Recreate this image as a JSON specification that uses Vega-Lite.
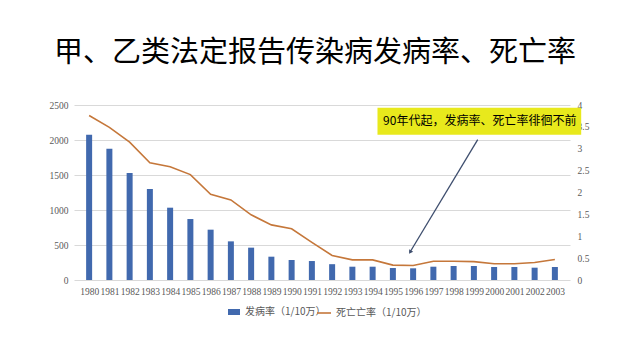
{
  "$schema": "https://vega.github.io/schema/vega-lite/v6.json",
  "width": 496,
  "height": 175,
  "autosize": "none",
  "padding": {"left": 74, "top": 105, "right": 70, "bottom": 80},
  "background": "white",
  "title": {
    "text": "甲、乙类法定报告传染病发病率、死亡率",
    "font": "Noto Sans CJK SC",
    "fontSize": 29,
    "fontWeight": "normal",
    "color": "#000000",
    "anchor": "middle",
    "dx": -7,
    "offset": 32
  },
  "config": {
    "view": {"stroke": null},
    "axis": {
      "labelFont": "Liberation Serif",
      "labelFontSize": 9.5,
      "labelColor": "#595959",
      "ticks": false,
      "domain": false,
      "title": null
    }
  },
  "datasets": {
    "rates": [
      {"year": 1980, "inc": 2076, "mort": 3.76},
      {"year": 1981, "inc": 1876, "mort": 3.49},
      {"year": 1982, "inc": 1529, "mort": 3.15},
      {"year": 1983, "inc": 1300, "mort": 2.68},
      {"year": 1984, "inc": 1033, "mort": 2.59},
      {"year": 1985, "inc": 871, "mort": 2.41},
      {"year": 1986, "inc": 719, "mort": 1.96},
      {"year": 1987, "inc": 552, "mort": 1.83},
      {"year": 1988, "inc": 462, "mort": 1.49},
      {"year": 1989, "inc": 333, "mort": 1.26},
      {"year": 1990, "inc": 286, "mort": 1.17},
      {"year": 1991, "inc": 271, "mort": 0.86},
      {"year": 1992, "inc": 226, "mort": 0.56},
      {"year": 1993, "inc": 190, "mort": 0.46},
      {"year": 1994, "inc": 190, "mort": 0.46},
      {"year": 1995, "inc": 171, "mort": 0.34},
      {"year": 1996, "inc": 167, "mort": 0.33},
      {"year": 1997, "inc": 190, "mort": 0.43},
      {"year": 1998, "inc": 200, "mort": 0.43},
      {"year": 1999, "inc": 200, "mort": 0.42},
      {"year": 2000, "inc": 186, "mort": 0.37},
      {"year": 2001, "inc": 186, "mort": 0.37},
      {"year": 2002, "inc": 176, "mort": 0.40},
      {"year": 2003, "inc": 186, "mort": 0.47}
    ],
    "note": [
      {"label": "90年代起，发病率、死亡率徘徊不前"}
    ]
  },
  "layer": [
    {
      "data": {"name": "rates"},
      "mark": {"type": "bar", "size": 6},
      "encoding": {
        "x": {
          "field": "year",
          "type": "quantitative",
          "scale": {"domain": [1979.5, 2003.5], "nice": false, "zero": false},
          "axis": {
            "values": [1980,1981,1982,1983,1984,1985,1986,1987,1988,1989,1990,1991,1992,1993,1994,1995,1996,1997,1998,1999,2000,2001,2002,2003],
            "format": "d",
            "labelOverlap": false,
            "labelPadding": 6,
            "labelFlush": false,
            "grid": false
          }
        },
        "y": {
          "field": "inc",
          "type": "quantitative",
          "scale": {"domain": [0, 2500], "nice": false},
          "axis": {"values": [0,500,1000,1500,2000,2500], "format": "d", "labelOverlap": false, "grid": true, "gridColor": "#D9D9D9", "gridWidth": 1, "labelPadding": 6}
        },
        "color": {
          "datum": "发病率（1/10万）",
          "scale": {"range": ["#4169AE"]},
          "legend": {
            "orient": "none", "legendX": 153, "legendY": 200, "title": null,
            "symbolType": "M-1,-0.5H1V0.5H-1Z", "symbolSize": 144,
            "labelFont": "Noto Sans CJK SC", "labelFontSize": 10, "labelColor": "#595959",
            "labelOffset": 4, "padding": 0
          }
        }
      }
    },
    {
      "data": {"name": "rates"},
      "mark": {"type": "line", "strokeWidth": 1.6},
      "encoding": {
        "x": {
          "field": "year",
          "type": "quantitative",
          "axis": {
            "values": [1980,1981,1982,1983,1984,1985,1986,1987,1988,1989,1990,1991,1992,1993,1994,1995,1996,1997,1998,1999,2000,2001,2002,2003],
            "format": "d",
            "labelOverlap": false,
            "labelPadding": 6,
            "labelFlush": false,
            "grid": false
          }
        },
        "y": {
          "field": "mort",
          "type": "quantitative",
          "scale": {"domain": [0, 4], "nice": false},
          "axis": {"orient": "right", "values": [0,0.5,1,1.5,2,2.5,3,3.5,4], "format": "~g", "labelOverlap": false, "grid": false, "labelPadding": 7}
        },
        "stroke": {
          "datum": "死亡亡率（1/10万）",
          "scale": {"range": ["#C5773A"]},
          "legend": {
            "orient": "none", "legendX": 242, "legendY": 200, "title": null,
            "symbolType": "stroke", "symbolSize": 196, "symbolStrokeWidth": 1.6,
            "labelFont": "Noto Sans CJK SC", "labelFontSize": 10, "labelColor": "#595959",
            "labelOffset": 4, "padding": 0
          }
        }
      }
    },
    {
      "data": {"name": "note"},
      "layer": [
        {
          "mark": {"type": "rect", "color": "#E8E91C", "clip": false},
          "encoding": {
            "x": {"datum": 1994.24, "type": "quantitative", "axis": {
              "values": [1980,1981,1982,1983,1984,1985,1986,1987,1988,1989,1990,1991,1992,1993,1994,1995,1996,1997,1998,1999,2000,2001,2002,2003],
              "format": "d", "labelOverlap": false, "labelPadding": 6, "labelFlush": false, "grid": false}},
            "x2": {"datum": 2004.3},
            "y": {"datum": 3.94, "type": "quantitative", "scale": {"domain": [0, 4], "nice": false}, "axis": null},
            "y2": {"datum": 3.32}
          }
        },
        {
          "mark": {"type": "text", "font": "Noto Sans CJK SC", "fontSize": 12, "color": "#000000", "align": "center", "baseline": "middle"},
          "encoding": {
            "x": {"datum": 1999.29, "type": "quantitative", "axis": {
              "values": [1980,1981,1982,1983,1984,1985,1986,1987,1988,1989,1990,1991,1992,1993,1994,1995,1996,1997,1998,1999,2000,2001,2002,2003],
              "format": "d", "labelOverlap": false, "labelPadding": 6, "labelFlush": false, "grid": false}},
            "y": {"datum": 3.63, "type": "quantitative", "axis": null},
            "text": {"field": "label"}
          }
        },
        {
          "mark": {"type": "rule", "color": "#3E4E6E", "strokeWidth": 1.3},
          "encoding": {
            "x": {"datum": 1999.19, "type": "quantitative", "axis": {
              "values": [1980,1981,1982,1983,1984,1985,1986,1987,1988,1989,1990,1991,1992,1993,1994,1995,1996,1997,1998,1999,2000,2001,2002,2003],
              "format": "d", "labelOverlap": false, "labelPadding": 6, "labelFlush": false, "grid": false}},
            "x2": {"datum": 1995.85},
            "y": {"datum": 3.21, "type": "quantitative", "axis": null},
            "y2": {"datum": 0.64}
          }
        },
        {
          "mark": {"type": "point", "shape": "triangle", "filled": true, "color": "#3E4E6E", "size": 22, "angle": 211.5, "opacity": 1},
          "encoding": {
            "x": {"datum": 1995.87, "type": "quantitative", "axis": {
              "values": [1980,1981,1982,1983,1984,1985,1986,1987,1988,1989,1990,1991,1992,1993,1994,1995,1996,1997,1998,1999,2000,2001,2002,2003],
              "format": "d", "labelOverlap": false, "labelPadding": 6, "labelFlush": false, "grid": false}},
            "y": {"datum": 0.65, "type": "quantitative", "axis": null}
          }
        }
      ]
    }
  ],
  "resolve": {"scale": {"y": "independent"}}
}
